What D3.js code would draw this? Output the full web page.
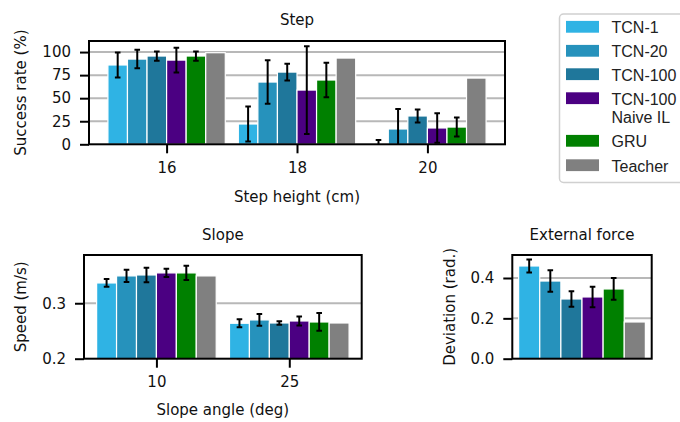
<!DOCTYPE html>
<html><head><meta charset="utf-8">
<script src="https://cdn.jsdelivr.net/npm/d3@7/dist/d3.min.js"></script>
<style>
body{margin:0;background:#fff;}
svg{display:block;font-family:"DejaVu Sans",sans-serif;}
</style></head>
<body><svg id="c" width="680" height="422"></svg>
<script>
const seriesNames = ["TCN-1","TCN-20","TCN-100","TCN-100\nNaive IL","GRU","Teacher"];
const seriesColors = ["#2fb3e4","#2692bc","#1f779b","#4b0082","#008000","#808080"];

const stepCategories = ["16","18","20"];
const stepValues = [
  [86, 22, 1],
  [92.4, 67.5, 16.6],
  [95.7, 78.3, 30.7],
  [91.3, 58.8, 17.7],
  [95.7, 69.7, 18.7],
  [99.3, 93.5, 71.8]
];
const stepErrors = [
  [13.5, 19, 3.7],
  [10, 23.5, 21.6],
  [5, 9, 7],
  [13.5, 47.5, 16],
  [5, 18.8, 10.3],
  [null, null, null]
];
const stepTicks = [0, 25, 50, 75, 100];

const slopeCategories = ["10","25"];
const slopeValues = [
  [0.3366, 0.2639],
  [0.3493, 0.2699],
  [0.3510, 0.2644],
  [0.3547, 0.2680],
  [0.3547, 0.2662],
  [0.3493, 0.2644]
];
const slopeErrors = [
  [0.007, 0.0073],
  [0.011, 0.0105],
  [0.013, 0.003],
  [0.0075, 0.008],
  [0.013, 0.016],
  [null, null]
];
const slopeTicks = [0.2, 0.3];

const forceCategories = [""];
const forceValues = [[0.4596],[0.385],[0.296],[0.306],[0.3456],[0.182]];
const forceErrors = [[0.032],[0.053],[0.038],[0.051],[0.054],[null]];
const forceTicks = [0.0, 0.2, 0.4];

const svg = d3.select("#c");
let clipId = 0;

function panel(o){
  const g = svg.append("g");
  const n = o.categories.length;
  const x = d3.scaleLinear().domain([-0.45 - 0.05*(n-1+0.9), n-1+0.45 + 0.05*(n-1+0.9)]).range([o.x0, o.x1]);
  const y = d3.scaleLinear().domain(o.yDomain).range([o.y1, o.y0]);
  const cid = "clip" + (clipId++);
  g.append("clipPath").attr("id", cid).append("rect")
    .attr("x", o.x0).attr("y", o.y0).attr("width", o.x1-o.x0).attr("height", o.y1-o.y0);
  // grid
  g.append("g").selectAll("line").data(o.ticks.filter(t => t !== o.yDomain[0])).join("line")
    .attr("x1", o.x0).attr("x2", o.x1).attr("y1", d => y(d)).attr("y2", d => y(d))
    .attr("stroke", "#b8b8b8").attr("stroke-width", 2);
  const bw = 0.15;
  const plot = g.append("g").attr("clip-path", `url(#${cid})`);
  o.values.forEach((vals, si) => {
    vals.forEach((v, ci) => {
      const cx = ci + (si - 2.5) * bw;
      plot.append("rect")
        .attr("x", x(cx - bw/2)).attr("width", x(cx + bw/2) - x(cx - bw/2))
        .attr("y", y(v)).attr("height", y(o.yDomain[0]) - y(v))
        .attr("fill", seriesColors[si]).attr("stroke", "#fff").attr("stroke-width", 1.2);
    });
  });
  o.values.forEach((vals, si) => {
    vals.forEach((v, ci) => {
      const e = o.errors[si][ci];
      if (e == null) return;
      const cx = x(ci + (si - 2.5) * bw);
      const eg = plot.append("g").attr("stroke", "#000").attr("stroke-width", 2);
      eg.append("line").attr("x1", cx).attr("x2", cx).attr("y1", y(v - e)).attr("y2", y(v + e));
      [v - e, v + e].forEach(t => eg.append("line").attr("x1", cx - 2.8).attr("x2", cx + 2.8).attr("y1", y(t)).attr("y2", y(t)));
    });
  });
  // axes
  const ya = d3.axisLeft(y).tickValues(o.ticks).tickFormat(o.fmt).tickSize(9).tickPadding(9).tickSizeOuter(0);
  const yg = g.append("g").attr("transform", `translate(${o.x0},0)`).call(ya);
  yg.select(".domain").remove();
  yg.selectAll(".tick line").attr("stroke", "#000").attr("stroke-width", 2);
  yg.selectAll("text").attr("font-size", 15).attr("fill", "#111").attr("font-family", "DejaVu Sans");
  if (o.xTicks) {
    const xa = d3.axisBottom(x).tickValues(d3.range(n)).tickFormat(i => o.categories[i]).tickSize(9).tickPadding(9).tickSizeOuter(0);
    const xg = g.append("g").attr("transform", `translate(0,${o.y1})`).call(xa);
    xg.select(".domain").remove();
    xg.selectAll(".tick line").attr("stroke", "#000").attr("stroke-width", 2);
    xg.selectAll("text").attr("font-size", 15).attr("fill", "#111").attr("font-family", "DejaVu Sans");
  }
  g.append("rect").attr("x", o.x0).attr("y", o.y0).attr("width", o.x1-o.x0).attr("height", o.y1-o.y0)
    .attr("fill", "none").attr("stroke", "#000").attr("stroke-width", 2);
  // labels
  g.append("text").attr("x", (o.x0+o.x1)/2).attr("y", o.titleY).attr("text-anchor", "middle")
    .attr("font-size", 15).attr("fill", "#111").text(o.title);
  if (o.xLabel) g.append("text").attr("x", (o.x0+o.x1)/2).attr("y", o.xLabelY).attr("text-anchor", "middle")
    .attr("font-size", 15).attr("fill", "#111").text(o.xLabel);
  g.append("text").attr("transform", `translate(${o.yLabelX},${(o.y0+o.y1)/2}) rotate(-90)`)
    .attr("text-anchor", "middle").attr("font-size", 15).attr("fill", "#111").text(o.yLabel);
}

panel({categories: stepCategories, values: stepValues, errors: stepErrors, ticks: stepTicks,
  fmt: d3.format("d"), x0: 89, x1: 505, y0: 41, y1: 144.3, yDomain: [0, 112],
  title: "Step", titleY: 24.5, xLabel: "Step height (cm)", xLabelY: 202, yLabel: "Success rate (%)", yLabelX: 26, xTicks: true});

panel({categories: slopeCategories, values: slopeValues, errors: slopeErrors, ticks: slopeTicks,
  fmt: d3.format(".1f"), x0: 84, x1: 361.7, y0: 255, y1: 358.7, yDomain: [0.2, 0.387],
  title: "Slope", titleY: 239.5, xLabel: "Slope angle (deg)", xLabelY: 414.5, yLabel: "Speed (m/s)", yLabelX: 26, xTicks: true});

panel({categories: forceCategories, values: forceValues, errors: forceErrors, ticks: forceTicks,
  fmt: d3.format(".1f"), x0: 512.3, x1: 651.7, y0: 255, y1: 358.7, yDomain: [0, 0.514],
  title: "External force", titleY: 239.5, xLabel: null, yLabel: "Deviation (rad.)", yLabelX: 454.5, xTicks: false});

// legend
const lg = svg.append("g").attr("font-family", "Liberation Sans, Arial, sans-serif");
lg.append("rect").attr("x", 559.5).attr("y", 14).attr("width", 140).attr("height", 168.5)
  .attr("rx", 4).attr("fill", "#fff").attr("stroke", "#d0d0d0").attr("stroke-width", 1.5);
const rowY = [26.8, 50.8, 74.2, 98.2, 140.8, 165.2];
seriesNames.forEach((name, i) => {
  lg.append("rect").attr("x", 566).attr("y", rowY[i] - 5.9).attr("width", 33).attr("height", 11.8)
    .attr("fill", seriesColors[i]);
  name.split("\n").forEach((line, j) => {
    lg.append("text").attr("x", 611.5).attr("y", rowY[i] + 6.3 + j*18.6)
      .attr("font-size", 16).attr("fill", "#222").text(line);
  });
});
</script></body></html>
